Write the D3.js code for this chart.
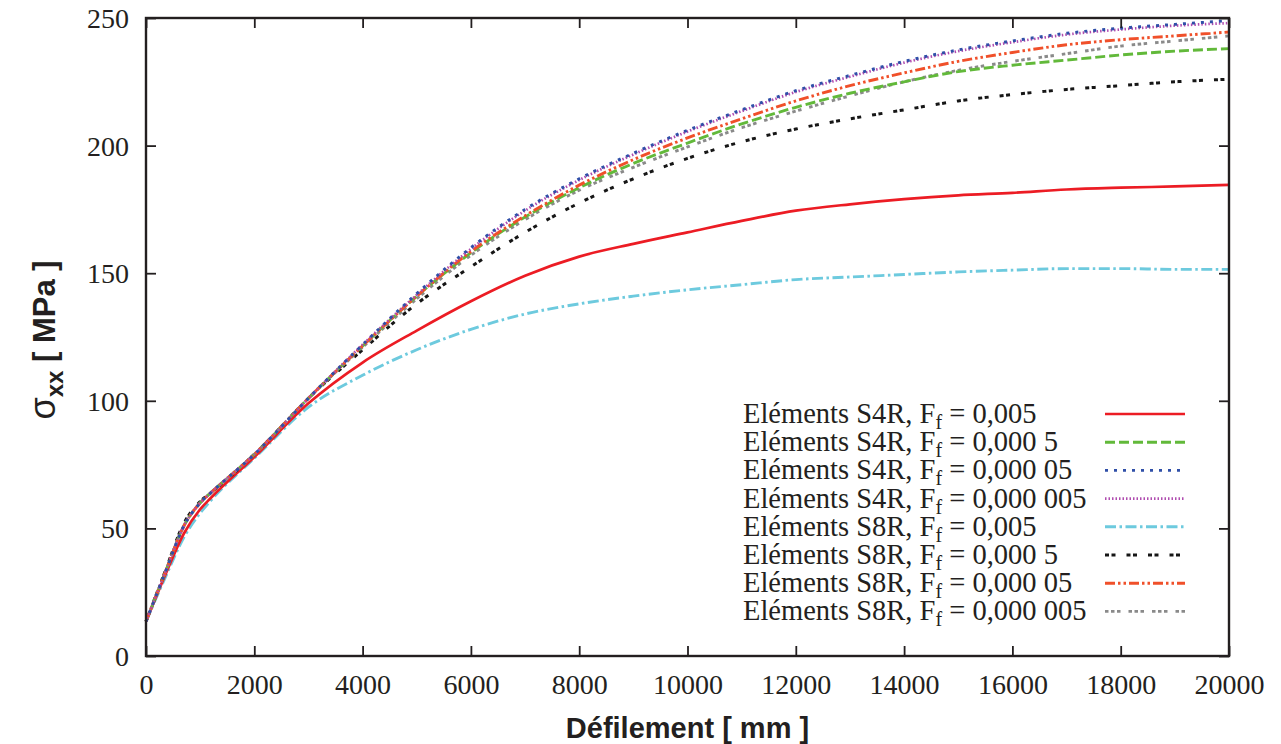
<!DOCTYPE html>
<html>
<head>
<meta charset="utf-8">
<script src="https://cdn.jsdelivr.net/npm/d3@7"></script>
<style>
  html, body { margin: 0; padding: 0; background: #fff; }
  svg { display: block; }
</style>
</head>
<body>
<svg id="chart" width="1281" height="744"></svg>
<script>
// ---------------- data ----------------
const xValues = [0, 350, 700, 1000, 1200, 2000, 3000, 4000, 5000, 6000, 7000, 8000, 9000, 10000,
                 11000, 12000, 13000, 14000, 15000, 16000, 17000, 18000, 19000, 20000];

const s4r_005     = [13.5, 31.5, 48, 57.5, 62, 78, 99, 115, 127.5, 139, 149, 156.5, 161.5, 166, 170.5, 174.5, 177, 179, 180.5, 181.5, 182.8, 183.5, 184, 184.6];
const s4r_0005    = [13.5, 32.5, 51, 60, 64, 79, 101, 121.5, 141, 158, 172, 183.5, 193, 201, 208.5, 215, 220.5, 225, 229, 231.5, 233.5, 235.5, 237, 238];
const s4r_00005   = [13.5, 32.5, 51, 60, 64, 79, 101, 122, 142, 160, 175, 187, 197, 206, 214, 221.5, 227.5, 233, 237.5, 241, 244, 246, 247.5, 249];
const s4r_000005  = [13.5, 32.5, 51, 60, 64, 79, 101, 122, 141.5, 159.5, 174.5, 186.5, 196.5, 205.5, 213.5, 221, 227, 232.5, 237, 240.5, 243.5, 245.5, 247, 248];
const s8r_005     = [13.5, 30.5, 46.5, 56, 61, 77.5, 97.5, 110, 120, 128, 134, 138, 141, 143.5, 145.5, 147.5, 148.5, 149.5, 150.5, 151.2, 151.8, 151.8, 151.5, 151.5];
const s8r_0005    = [13.5, 33, 52, 60.5, 64, 79, 101, 120, 138, 152.5, 166, 177.5, 187, 195, 201.5, 206.5, 210.5, 214, 217.5, 220, 222, 223.5, 225, 226];
const s8r_00005   = [13.5, 32.5, 51, 60, 64, 79, 101, 121.5, 141, 158.5, 172.5, 184.5, 194.5, 203, 210.5, 217.5, 223.5, 228.5, 233, 236.5, 239.5, 241.5, 243, 244.5];
const s8r_000005  = [13.5, 32.5, 51, 60, 64, 79, 101, 121, 140, 157, 171, 182.5, 191.5, 199.5, 207, 213.5, 219.5, 225, 229.5, 233, 236, 239, 241, 243];

const elementTypes = ["S4R", "S4R", "S4R", "S4R", "S8R", "S8R", "S8R", "S8R"];
const ffLabels     = ["0,005", "0,000 5", "0,000 05", "0,000 005", "0,005", "0,000 5", "0,000 05", "0,000 005"];

const xTicks = [0, 2000, 4000, 6000, 8000, 10000, 12000, 14000, 16000, 18000, 20000];
const yTicks = [0, 50, 100, 150, 200, 250];

const xTitle = "Défilement [ mm ]";

// ---------------- styles ----------------
const seriesValues = [s4r_005, s4r_0005, s4r_00005, s4r_000005, s8r_005, s8r_0005, s8r_00005, s8r_000005];
const colors = ["#ec1c24", "#62b93a", "#2f4fa8", "#b04db0", "#6dcade", "#161616", "#f0502a", "#8a8a8a"];
const dashes = ["", "10,4", "3,6", "1.5,2", "11,3.5,2.5,3.5", "4,2.5,4,11", "10,3,2.5,3,2.5,3", "3.5,2.5,3.5,2.5,3.5,8"];
const widths = [2.7, 2.9, 2.9, 2.7, 2.9, 3, 2.9, 2.9];

// ---------------- layout ----------------
const svg = d3.select("#chart");
const mLeft = 146, mRight = 1229, mTop = 18, mBottom = 656;

const x = d3.scaleLinear().domain([0, 20000]).range([mLeft, mRight]);
const y = d3.scaleLinear().domain([0, 250]).range([mBottom, mTop]);

const serifFont = "'Liberation Serif', 'Times New Roman', serif";
const sansFont = "'Liberation Sans', Arial, Helvetica, sans-serif";
const axisColor = "#231f20";

// series
const line = d3.line().x(d => x(d[0])).y(d => y(d[1])).curve(d3.curveMonotoneX);
const plot = svg.append("g");
const order = [4, 0, 5, 7, 1, 6, 3, 2];
order.forEach(i => {
  const pts = xValues.map((xv, k) => [xv, seriesValues[i][k]]);
  plot.append("path")
    .attr("d", line(pts))
    .attr("fill", "none")
    .attr("stroke", colors[i])
    .attr("stroke-width", widths[i])
    .attr("stroke-dasharray", dashes[i] || null)
    .attr("stroke-linejoin", "round");
});

// axes (ticks inward, mirrored)
const tickLen = 10;
const axB = svg.append("g").attr("transform", `translate(0,${mBottom})`)
  .call(d3.axisBottom(x).tickValues(xTicks).tickSize(-tickLen).tickFormat(d3.format("d")));
const axT = svg.append("g").attr("transform", `translate(0,${mTop})`)
  .call(d3.axisTop(x).tickValues(xTicks).tickSize(-tickLen).tickFormat(""));
const axL = svg.append("g").attr("transform", `translate(${mLeft},0)`)
  .call(d3.axisLeft(y).tickValues(yTicks).tickSize(-tickLen).tickFormat(d3.format("d")));
const axR = svg.append("g").attr("transform", `translate(${mRight},0)`)
  .call(d3.axisRight(y).tickValues(yTicks).tickSize(-tickLen).tickFormat(""));

[axB, axT, axL, axR].forEach(a => {
  a.select(".domain").remove();
  a.selectAll(".tick line").attr("stroke", axisColor).attr("stroke-width", 1.8);
  a.selectAll(".tick text").attr("fill", axisColor).style("font-family", serifFont).style("font-size", "28px");
});
axB.selectAll(".tick text").attr("dy", "0.71em").attr("y", 18);
axL.selectAll(".tick text").attr("x", -17).attr("dy", "0.34em");

// frame
svg.append("rect")
  .attr("x", mLeft).attr("y", mTop)
  .attr("width", mRight - mLeft).attr("height", mBottom - mTop)
  .attr("fill", "none").attr("stroke", axisColor).attr("stroke-width", 2.4);

// x title
svg.append("text")
  .attr("x", (mLeft + mRight) / 2).attr("y", 738)
  .attr("text-anchor", "middle")
  .style("font-family", sansFont).style("font-weight", "bold").style("font-size", "29px")
  .attr("fill", axisColor)
  .text(xTitle);

// y title
const yt = svg.append("text")
  .attr("transform", "translate(55,340) rotate(-90)")
  .attr("text-anchor", "middle")
  .style("font-family", sansFont).style("font-size", "31px").style("font-weight", "bold")
  .attr("fill", axisColor);
yt.append("tspan").style("font-weight", "normal").style("font-size", "36px").text("σ");
yt.append("tspan").attr("dy", 8).style("font-size", "24px").text("xx");
yt.append("tspan").attr("dy", -8).text(" [ MPa ]");

// legend
const legX = 743, legLineX0 = 1105, legLineX1 = 1185, legY0 = 414, legStep = 28.2;
const leg = svg.append("g");
elementTypes.forEach((el, i) => {
  const cy = legY0 + i * legStep;
  const t = leg.append("text")
    .attr("x", legX).attr("y", cy + 9)
    .style("font-family", serifFont).style("font-size", "28.5px")
    .attr("fill", axisColor);
  t.append("tspan").text(`Eléments ${el}, F`);
  t.append("tspan").attr("dy", 6).style("font-size", "20px").text("f");
  t.append("tspan").attr("dy", -6).text(` = ${ffLabels[i]}`);
  leg.append("line")
    .attr("x1", legLineX0).attr("x2", legLineX1)
    .attr("y1", cy).attr("y2", cy)
    .attr("stroke", colors[i])
    .attr("stroke-width", widths[i])
    .attr("stroke-dasharray", dashes[i] || null);
});
</script>
</body>
</html>
